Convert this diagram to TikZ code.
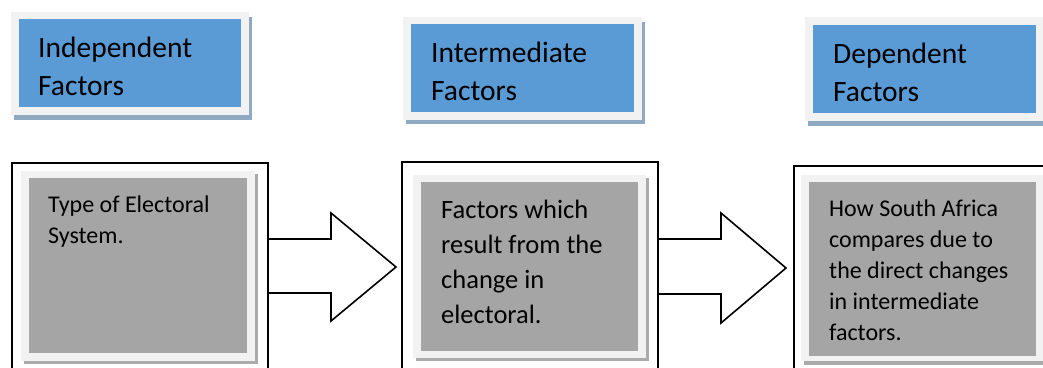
\documentclass[tikz,border=0pt]{standalone}
\usepackage{fontspec}
\setmainfont{Carlito}
\definecolor{hblue}{HTML}{5B9BD5}
\definecolor{hframe}{HTML}{F2F2F2}
\definecolor{hshadow}{HTML}{8EA9C1}
\definecolor{ggray}{HTML}{A5A5A5}
\definecolor{gshadow}{HTML}{ABABAB}
\tikzset{
  outerbox/.style={draw=black, line width=1.6pt, inner sep=0pt, anchor=north west},
  blockarrow/.style={draw=black, fill=white, line width=1.6pt, line join=miter},
  headtxt/.style={anchor=base west, inner sep=0pt, font=\fontsize{29.5}{38}\selectfont},
  smalltxt/.style={anchor=base west, inner sep=0pt, font=\fontsize{24}{31}\selectfont},
  midtxt/.style={anchor=base west, inner sep=0pt, font=\fontsize{26.5}{35}\selectfont},
}
\begin{document}
\begin{tikzpicture}[x=1pt,y=-1pt]
\path[use as bounding box] (0,0) rectangle (1043,367);
\clip (0,0) rectangle (1043,367);
\fill[white] (0,0) rectangle (1043,367);

% ---- top header boxes ----
\fill[hshadow] (14,17) rectangle (252,120);
\fill[hframe] (11,12) rectangle (249,115);
\fill[hblue] (19,19) rectangle (241,107);
\node[headtxt] (h1) at (38,57) {\parbox[t]{200pt}{\raggedright Independent\\Factors}};

\fill[hshadow] (406,22) rectangle (645,124);
\fill[hframe] (403,17) rectangle (642,120);
\fill[hblue] (411,24) rectangle (634,112);
\node[headtxt] (h2) at (431,62) {\parbox[t]{200pt}{\raggedright Intermediate\\Factors}};

\fill[hshadow] (808,22) rectangle (1047,126);
\fill[hframe] (805,17) rectangle (1044,121);
\fill[hblue] (813,25) rectangle (1036,113);
\node[headtxt] (h3) at (833,63) {\parbox[t]{200pt}{\raggedright Dependent\\Factors}};

% ---- block arrows (drawn first so box edges stay on top) ----
\coordinate (a1) at (267,239);
\coordinate (a2) at (657,239);
\draw[blockarrow] (a1) -- ++(64,0) -- ++(0,-26) -- ++(65,54) -- ++(-65,54) -- ++(0,-28) -- ++(-64,0);
\draw[blockarrow] (a2) -- ++(64,0) -- ++(0,-26) -- ++(65,55) -- ++(-65,55) -- ++(0,-29) -- ++(-64,0);

% ---- bottom boxes ----
\fill[gshadow] (24,174) rectangle (258,364);
\fill[hframe] (21,171) rectangle (255,361);
\fill[ggray] (29,178) rectangle (247,353);
\node[outerbox, minimum width=256pt, minimum height=230pt] (o1) at (11,162) {};
\node[smalltxt] (t1) at (48,212) {\parbox[t]{195pt}{\raggedright Type of Electoral\\System.}};

\fill[gshadow] (416,178) rectangle (649,361);
\fill[hframe] (413,175) rectangle (646,358);
\fill[ggray] (421,182) rectangle (638,351);
\node[outerbox, minimum width=256pt, minimum height=230pt] (o2) at (401,161) {};
\node[midtxt] (t2) at (441,218) {\parbox[t]{195pt}{\raggedright Factors which\\result from the\\change in\\electoral.}};

\fill[gshadow] (804,178) rectangle (1047,365);
\fill[hframe] (801,175) rectangle (1044,361);
\fill[ggray] (809,182) rectangle (1036,356);
\node[outerbox, minimum width=260pt, minimum height=230pt] (o3) at (793,165) {};
\node[smalltxt] (t3) at (829,216) {\parbox[t]{205pt}{\raggedright How South Africa\\compares due to\\the direct changes\\in intermediate\\factors.}};
\end{tikzpicture}
\end{document}
